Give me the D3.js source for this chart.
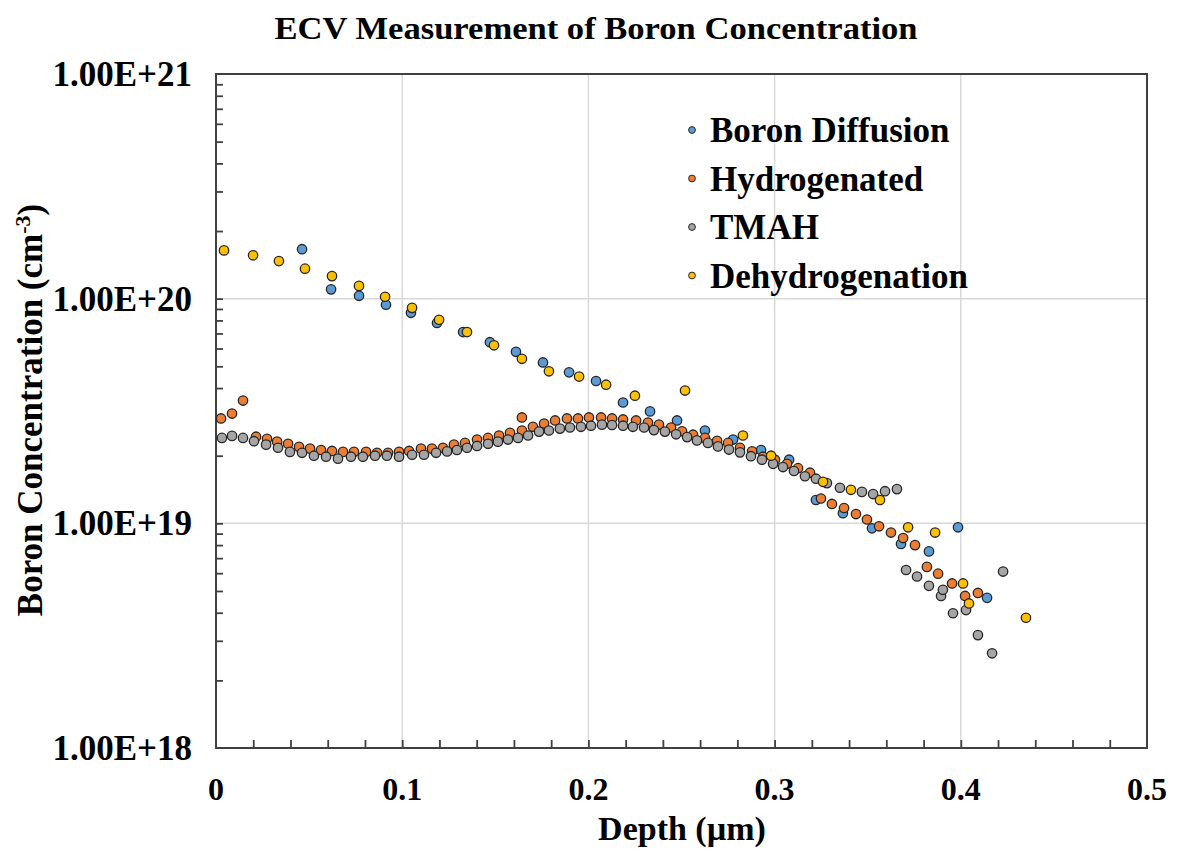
<!DOCTYPE html>
<html>
<head>
<meta charset="utf-8">
<script src="https://cdn.jsdelivr.net/npm/d3@7"></script>
<style>
  html, body { margin: 0; padding: 0; background: #fff; }
  svg { display: block; }
  text { font-family: "Liberation Serif", "Times New Roman", serif; font-weight: bold; fill: #000; }
</style>
</head>
<body>
<svg id="chart" width="1177" height="854"></svg>
<script>
// ---------------- DATA ----------------
const chartTitle = "ECV Measurement of Boron Concentration";
const xTickValues = [0, 0.1, 0.2, 0.3, 0.4, 0.5];
const xTickLabels = ["0", "0.1", "0.2", "0.3", "0.4", "0.5"];
const yTickValues = [1e18, 1e19, 1e20, 1e21];
const yTickLabels = ["1.00E+18", "1.00E+19", "1.00E+20", "1.00E+21"];
const seriesNames = ["Boron Diffusion", "Hydrogenated", "TMAH", "Dehydrogenation"];

const boronDepth = [0.0462,0.0618,0.0768,0.0913,0.1047,0.1187,0.1327,0.1471,0.1611,0.1756,0.1896,0.2041,0.2186,0.2331,0.2476,0.2626,0.2777,0.2927,0.3078,0.3222,0.3367,0.3523,0.3679,0.3829,0.3985,0.4141];
const boronConc = [1.66e20,1.10e20,1.03e20,9.4e19,8.65e19,7.8e19,7.1e19,6.4e19,5.8e19,5.2e19,4.7e19,4.3e19,3.45e19,3.15e19,2.87e19,2.59e19,2.36e19,2.12e19,1.92e19,1.27e19,1.11e19,9.5e18,8.1e18,7.5e18,9.6e18,4.66e18];

const hydroDepth = [0.0027,0.0086,0.0145,0.0215,0.0274,0.0328,0.0387,0.0446,0.0505,0.0564,0.0623,0.0682,0.0741,0.0806,0.0865,0.0924,0.0983,0.1037,0.1101,0.1160,0.1219,0.1278,0.1337,0.1402,0.1461,0.1520,0.1579,0.1643,0.1643,0.1702,0.1762,0.1821,0.1885,0.1944,0.2003,0.2068,0.2127,0.2186,0.2256,0.2320,0.2379,0.2444,0.2503,0.2562,0.2626,0.2691,0.2750,0.2814,0.2879,0.2938,0.3002,0.3067,0.3126,0.3190,0.3249,0.3308,0.3373,0.3437,0.3496,0.3561,0.3625,0.3690,0.3754,0.3818,0.3878,0.3953,0.4023,0.4092];
const hydroConc = [2.93e19,3.08e19,3.52e19,2.43e19,2.38e19,2.31e19,2.26e19,2.19e19,2.15e19,2.12e19,2.10e19,2.08e19,2.08e19,2.08e19,2.06e19,2.06e19,2.08e19,2.10e19,2.15e19,2.15e19,2.17e19,2.24e19,2.28e19,2.36e19,2.40e19,2.46e19,2.53e19,2.59e19,2.96e19,2.69e19,2.78e19,2.87e19,2.93e19,2.93e19,2.96e19,2.96e19,2.93e19,2.90e19,2.87e19,2.81e19,2.75e19,2.67e19,2.57e19,2.48e19,2.40e19,2.33e19,2.28e19,2.17e19,2.09e19,1.98e19,1.92e19,1.84e19,1.76e19,1.68e19,1.29e19,1.22e19,1.17e19,1.10e19,1.04e19,9.7e18,9.1e18,8.6e18,8.0e18,6.4e18,5.97e18,5.4e18,4.75e18,4.9e18];

const tmahDepth = [0.0032,0.0086,0.0145,0.0204,0.0269,0.0333,0.0397,0.0462,0.0526,0.0591,0.0655,0.0725,0.0789,0.0854,0.0918,0.0983,0.1053,0.1117,0.1182,0.1241,0.1294,0.1348,0.1402,0.1461,0.1514,0.1568,0.1622,0.1676,0.1735,0.1788,0.1847,0.1901,0.1960,0.2014,0.2073,0.2127,0.2186,0.2239,0.2299,0.2352,0.2411,0.2471,0.2530,0.2583,0.2642,0.2696,0.2755,0.2814,0.2873,0.2932,0.2992,0.3045,0.3104,0.3163,0.3222,0.3281,0.3351,0.3469,0.3529,0.3593,0.3657,0.3706,0.3765,0.3829,0.3894,0.3904,0.3958,0.4028,0.4092,0.4168,0.4227];
const tmahConc = [2.40e19,2.45e19,2.40e19,2.32e19,2.24e19,2.17e19,2.08e19,2.06e19,2.00e19,1.98e19,1.94e19,1.98e19,1.98e19,2.00e19,2.00e19,1.98e19,2.02e19,2.02e19,2.06e19,2.09e19,2.12e19,2.17e19,2.21e19,2.26e19,2.31e19,2.36e19,2.40e19,2.46e19,2.56e19,2.59e19,2.64e19,2.67e19,2.69e19,2.72e19,2.75e19,2.74e19,2.72e19,2.69e19,2.67e19,2.60e19,2.56e19,2.49e19,2.42e19,2.34e19,2.28e19,2.20e19,2.13e19,2.07e19,1.99e19,1.92e19,1.84e19,1.78e19,1.71e19,1.62e19,1.58e19,1.51e19,1.44e19,1.38e19,1.35e19,1.39e19,1.42e19,6.2e18,5.8e18,5.27e18,4.75e18,5.06e18,3.98e18,4.11e18,3.18e18,2.64e18,6.1e18];

const dehydDepth = [0.0043,0.0199,0.0338,0.0478,0.0623,0.0768,0.0908,0.1053,0.1198,0.1348,0.1493,0.1643,0.1788,0.1950,0.2095,0.2250,0.2519,0.2830,0.2981,0.3260,0.3410,0.3566,0.3717,0.3862,0.4012,0.4044,0.4350];
const dehydConc = [1.64e20,1.56e20,1.47e20,1.36e20,1.26e20,1.14e20,1.02e20,9.1e19,8.05e19,7.1e19,6.2e19,5.4e19,4.75e19,4.5e19,4.14e19,3.7e19,3.9e19,2.46e19,2.0e19,1.53e19,1.41e19,1.27e19,9.6e18,9.1e18,5.4e18,4.4e18,3.8e18];

// ---------------- LAYOUT ----------------
const colors = ["#5b9bd5", "#ed7d31", "#a5a5a5", "#ffc000"];
const L = 216, R = 1147, T = 74, B = 748;

const svg = d3.select("#chart");
const x = d3.scaleLinear().domain([0, 0.5]).range([L, R]);
const y = d3.scaleLog().domain([1e18, 1e21]).range([B, T]);

// gridlines
const grid = svg.append("g");
grid.selectAll("line.gx").data(xTickValues.slice(1, -1)).join("line")
  .attr("x1", d => x(d)).attr("x2", d => x(d)).attr("y1", T).attr("y2", B)
  .attr("stroke", "#d9d9d9").attr("stroke-width", 1.5);
grid.selectAll("line.gy").data(yTickValues.slice(1, -1)).join("line")
  .attr("x1", L).attr("x2", R).attr("y1", d => y(d)).attr("y2", d => y(d))
  .attr("stroke", "#d9d9d9").attr("stroke-width", 1.5);

// minor ticks via axes (inward)
const xMinor = d3.range(1, 25).map(i => i * 0.02);
const xAxis = d3.axisBottom(x).tickValues(xMinor).tickSizeInner(-8).tickSizeOuter(0).tickFormat("");
const gx = svg.append("g").attr("transform", `translate(0,${B})`).call(xAxis);
gx.select(".domain").remove();
gx.selectAll(".tick line").attr("stroke", "#404040").attr("stroke-width", 1.8);

const yMinor = [];
[1e18, 1e19, 1e20].forEach(dec => { for (let k = 2; k <= 9; k++) yMinor.push(dec * k); });
const yAxis = d3.axisLeft(y).tickValues(yMinor.concat(yTickValues.slice(1, -1))).tickSizeInner(-7).tickSizeOuter(0).tickFormat("");
const gy = svg.append("g").attr("transform", `translate(${L},0)`).call(yAxis);
gy.select(".domain").remove();
gy.selectAll(".tick line").attr("stroke", "#404040").attr("stroke-width", 1.8);

// frame
svg.append("rect").attr("x", L).attr("y", T).attr("width", R - L).attr("height", B - T)
  .attr("fill", "none").attr("stroke", "#404040").attr("stroke-width", 2);

// tick labels
svg.append("g").selectAll("text").data(xTickValues).join("text")
  .attr("x", d => x(d)).attr("y", 800).attr("text-anchor", "middle")
  .style("font-size", "32px").text((d, i) => xTickLabels[i]);
svg.append("g").selectAll("text").data(yTickValues).join("text")
  .attr("x", 192).attr("y", d => y(d) + 12).attr("text-anchor", "end")
  .style("font-size", "35px").text((d, i) => yTickLabels[i]);

// titles
svg.append("text").attr("x", 596).attr("y", 39).attr("text-anchor", "middle")
  .attr("textLength", 643).attr("lengthAdjust", "spacingAndGlyphs")
  .style("font-size", "32px").text(chartTitle);
svg.append("text").attr("x", 682).attr("y", 840).attr("text-anchor", "middle")
  .style("font-size", "34px").text("Depth (µm)");
const yt = svg.append("text").attr("transform", "translate(42,410) rotate(-90)")
  .attr("text-anchor", "middle").style("font-size", "35px");
yt.append("tspan").text("Boron Concentration (cm");
yt.append("tspan").attr("dy", -12).style("font-size", "22px").text("-3");
yt.append("tspan").attr("dy", 12).text(")");

// data points
const series = [
  { depth: boronDepth, conc: boronConc },
  { depth: hydroDepth, conc: hydroConc },
  { depth: tmahDepth, conc: tmahConc },
  { depth: dehydDepth, conc: dehydConc }
];
series.forEach((s, si) => {
  svg.append("g").selectAll("circle").data(s.depth.map((d, i) => [d, s.conc[i]])).join("circle")
    .attr("cx", d => x(d[0])).attr("cy", d => y(d[1])).attr("r", 4.7)
    .attr("fill", colors[si]).attr("stroke", "#262626").attr("stroke-width", 1.3);
});

// legend
const lg = svg.append("g");
seriesNames.forEach((name, i) => {
  const cy = 130 + i * 48.5;
  lg.append("circle").attr("cx", 692).attr("cy", cy).attr("r", 3.4)
    .attr("fill", colors[i]).attr("stroke", "#262626").attr("stroke-width", 1);
  lg.append("text").attr("x", 710).attr("y", cy + 12).style("font-size", "35px").text(name);
});
</script>
</body>
</html>
